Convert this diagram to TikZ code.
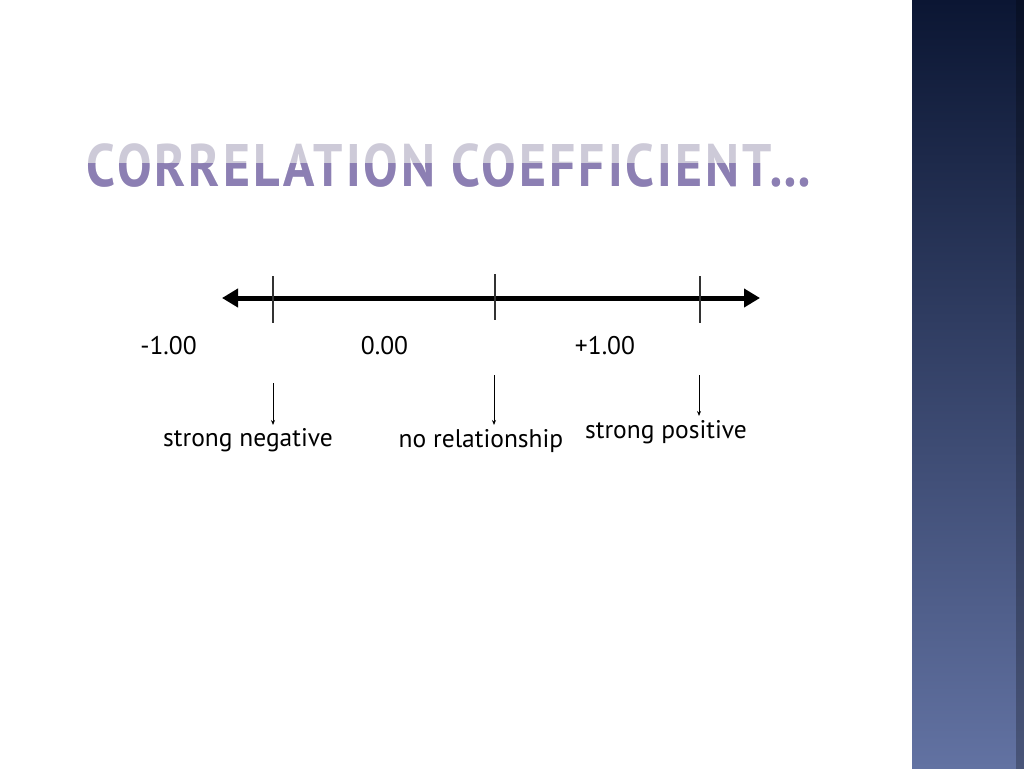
\documentclass[tikz,border=0pt]{standalone}
\usepackage{fontspec}
\setmainfont{PT Sans}
\newfontfamily\titlefont[LetterSpace=6]{PT Sans}
\usetikzlibrary{arrows.meta}
\definecolor{sidetop}{HTML}{0B1633}
\definecolor{sidebot}{HTML}{6272A2}
\definecolor{titlelight}{HTML}{CDCAD8}
\definecolor{titledark}{HTML}{8C7FB3}
\definecolor{tickgrey}{HTML}{333333}
\tikzset{
  tick/.style={draw=tickgrey, line width=1.3pt},
  mainline/.style={line width=5pt, {Triangle[length=16pt,width=18pt]}-{Triangle[length=16pt,width=18pt]}},
  pointer/.style={line width=0.9pt, -{Stealth[length=5pt,width=4pt]}},
  lbl/.style={font=\fontsize{25.5}{28}\selectfont, inner sep=0pt, text=black},
  ttl/.style={font=\titlefont\fontsize{60}{62}\bfseries\selectfont, inner sep=0pt, xscale=0.86}
}
\begin{document}
\begin{tikzpicture}[x=1pt,y=-1pt]
\useasboundingbox (0,0) rectangle (1024,768);
\fill[white] (0,0) rectangle (1024,768);
% sidebar
\shade[top color=sidetop, bottom color=sidebot] (912,0) rectangle (1024,768);
\shade[left color=sidebot!0!black, right color=black, opacity=0.25] (1016,0) rectangle (1024,768);
% title with two-tone effect
\node[ttl, text=titlelight] (title) at (449,165) {CORRELATION COEFFICIENT…};
\begin{scope}
\clip (0,163) rectangle (912,200);
\node[ttl, text=titledark] (titleb) at (449,165) {CORRELATION COEFFICIENT…};
\end{scope}
% number line
\coordinate (L) at (222,298);
\coordinate (R) at (760,298);
\draw[mainline] (L) -- (R);
\coordinate (t1a) at (273,276); \coordinate (t1b) at (273,323);
\coordinate (t2a) at (495,274); \coordinate (t2b) at (495,320);
\coordinate (t3a) at (700,276); \coordinate (t3b) at (700,323);
\draw[tick] (t1a) -- (t1b);
\draw[tick] (t2a) -- (t2b);
\draw[tick] (t3a) -- (t3b);
% values
\node[lbl] (vm1) at (168.5,346) {-1.00};
\node[lbl] (v0) at (384.5,346) {0.00};
\node[lbl] (vp1) at (605,346) {+1.00};
% pointers
\coordinate (p1a) at (273,383); \coordinate (p1b) at (273,425);
\coordinate (p2a) at (494,375); \coordinate (p2b) at (494,425);
\coordinate (p3a) at (699,375); \coordinate (p3b) at (699,416);
\draw[pointer] (p1a) -- (p1b);
\draw[pointer] (p2a) -- (p2b);
\draw[pointer] (p3a) -- (p3b);
% descriptions
\node[lbl] (sn) at (248,440) {strong negative};
\node[lbl] (nr) at (481,441) {no relationship};
\node[lbl] (sp) at (666,432) {strong positive};
\end{tikzpicture}
\end{document}
